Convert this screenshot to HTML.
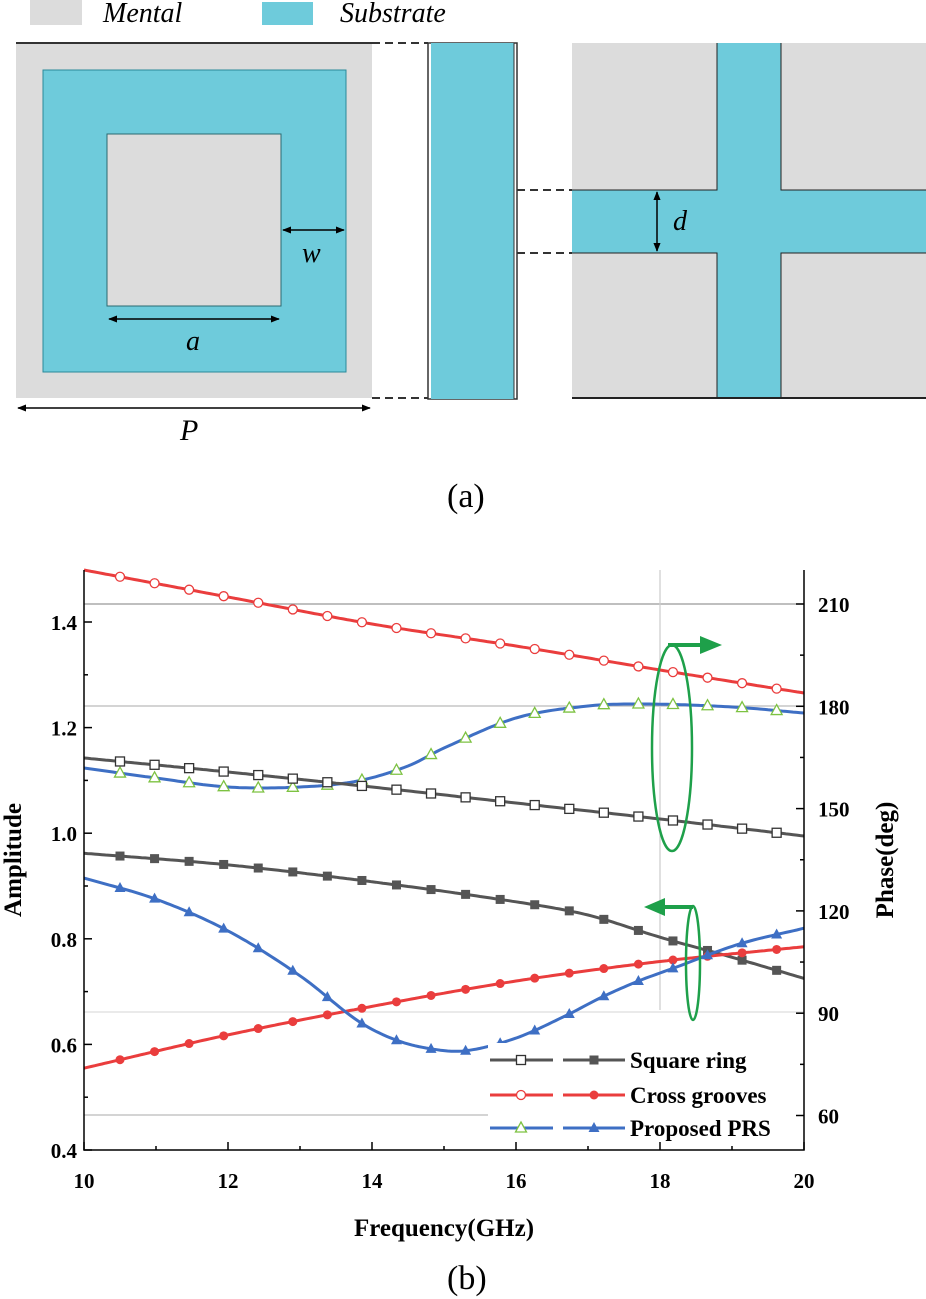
<!DOCTYPE html>
<html><head><meta charset="utf-8"><style>
html,body{margin:0;padding:0;background:#fff;}
svg{display:block;}
text{font-family:"Liberation Serif",serif;}
</style></head><body>
<svg id="s" width="926" height="1299" viewBox="0 0 926 1299" xmlns="http://www.w3.org/2000/svg">
<defs>
<marker id="ah" viewBox="0 0 10 10" refX="9" refY="5" markerWidth="6" markerHeight="6" orient="auto-start-reverse"><path d="M0,1 L10,5 L0,9 z" fill="#000"/></marker>
</defs>
<rect x="30" y="0" width="52" height="25" fill="#dcdcdc"/>
<text x="103" y="22" font-size="28" font-style="italic">Mental</text>
<rect x="262" y="2" width="51" height="23" fill="#6ecbdb"/>
<text x="340" y="22" font-size="28" font-style="italic">Substrate</text>
<rect x="16" y="43" width="356" height="355" fill="#dcdcdc"/>
<line x1="16" y1="43" x2="372" y2="43" stroke="#333" stroke-width="2"/>
<rect x="43" y="70" width="303" height="302" fill="#6ecbdb" stroke="#2a8a9a" stroke-width="1"/>
<rect x="107" y="134" width="174" height="172" fill="#dcdcdc" stroke="#2a6a70" stroke-width="1"/>
<line x1="109" y1="319" x2="279" y2="319" stroke="#000" stroke-width="1.5" marker-start="url(#ah)" marker-end="url(#ah)"/>
<text x="186" y="350" font-size="28" font-style="italic">a</text>
<line x1="283" y1="230" x2="344" y2="230" stroke="#000" stroke-width="1.5" marker-start="url(#ah)" marker-end="url(#ah)"/>
<text x="302" y="262" font-size="28" font-style="italic">w</text>
<line x1="18" y1="408" x2="370" y2="408" stroke="#000" stroke-width="1.5" marker-start="url(#ah)" marker-end="url(#ah)"/>
<text x="180" y="440" font-size="30" font-style="italic">P</text>
<line x1="372" y1="43" x2="428" y2="43" stroke="#333" stroke-width="2" stroke-dasharray="8,5"/>
<line x1="372" y1="398" x2="428" y2="398" stroke="#333" stroke-width="2" stroke-dasharray="8,5"/>
<rect x="428" y="43" width="89" height="356" fill="#fff" stroke="#333" stroke-width="1.5"/>
<rect x="431" y="43" width="83" height="356" fill="#6ecbdb"/>
<line x1="514" y1="43" x2="514" y2="399" stroke="#333" stroke-width="1"/>
<line x1="517" y1="190" x2="572" y2="190" stroke="#333" stroke-width="2" stroke-dasharray="8,5"/>
<line x1="517" y1="253" x2="572" y2="253" stroke="#333" stroke-width="2" stroke-dasharray="8,5"/>
<rect x="572" y="43" width="354" height="355" fill="#dcdcdc"/>
<rect x="717" y="43" width="64" height="355" fill="#6ecbdb"/>
<rect x="572" y="190" width="354" height="63" fill="#6ecbdb"/>
<path d="M572,190 H717 V43 M781,43 V190 H926 M572,253 H717 V398 M781,398 V253 H926" fill="none" stroke="#222" stroke-width="1"/>
<line x1="572" y1="398" x2="926" y2="398" stroke="#222" stroke-width="2"/>
<line x1="657" y1="192" x2="657" y2="251" stroke="#000" stroke-width="1.5" marker-start="url(#ah)" marker-end="url(#ah)"/>
<text x="673" y="230" font-size="28" font-style="italic">d</text>
<text x="447" y="507" font-size="34">(a)</text>
<text x="447" y="1289" font-size="34">(b)</text>
<g id="chart"></g>
</svg>
<script>
const NS="http://www.w3.org/2000/svg";
const g=document.getElementById('chart');
function el(t,a,p){const e=document.createElementNS(NS,t);for(const k in a)e.setAttribute(k,a[k]);(p||g).appendChild(e);return e;}
const X=f=>84+(f-10)*72;
const A=v=>1150-(v-0.4)*528;
el('line',{x1:84,y1:604,x2:804,y2:604,stroke:'#999','stroke-width':1.2});
el('line',{x1:84,y1:706,x2:804,y2:706,stroke:'#bbb','stroke-width':1.2});
el('line',{x1:84,y1:1012,x2:804,y2:1012,stroke:'#ddd','stroke-width':1.2});
el('line',{x1:84,y1:1115,x2:488,y2:1115,stroke:'#bbb','stroke-width':1.2});
el('line',{x1:660,y1:570,x2:660,y2:1010,stroke:'#ccc','stroke-width':1.2});
function interp(pts,f){for(let i=0;i<pts.length-1;i++){if(f>=pts[i][0]&&f<=pts[i+1][0]){
 const p0=pts[Math.max(i-1,0)],p1=pts[i],p2=pts[i+1],p3=pts[Math.min(i+2,pts.length-1)];
 const t=(f-p1[0])/(p2[0]-p1[0]);
 const m1=(p2[1]-p0[1])/(p2[0]-p0[0]||1)*(p2[0]-p1[0]);const m2=(p3[1]-p1[1])/(p3[0]-p1[0]||1)*(p2[0]-p1[0]);
 const t2=t*t,t3=t2*t;return (2*t3-3*t2+1)*p1[1]+(t3-2*t2+t)*m1+(-2*t3+3*t2)*p2[1]+(t3-t2)*m2;}}return pts[pts.length-1][1];}
const am=a=>a.map(p=>[p[0],A(p[1])]);
const S=[
 {c:'#ea3d3d',m:'oc',mc:'#ea3d3d',p:[[10,570],[12,597],[14,624],[16,646],[18,670],[20,693]]},
 {c:'#3e6fc4',m:'ot',mc:'#7dc242',p:[[10,768],[11,778],[12,787],[13,787],[13.8,781],[14.5,766],[15,748],[16,718],[17,706],[17.8,704],[19,707],[20,713]]},
 {c:'#555',m:'os',mc:'#333',p:[[10,758],[12,772],[14,787],[16,803],[18,819],[20,836]]},
 {c:'#555',m:'fs',mc:'#555',p:am([[10,0.962],[12,0.94],[14,0.908],[16,0.87],[17,0.845],[18,0.803],[19,0.765],[20,0.725]])},
 {c:'#ea3d3d',m:'fc',mc:'#ea3d3d',p:am([[10,0.555],[12,0.618],[14,0.672],[16,0.72],[18,0.757],[20,0.785]])},
 {c:'#3e6fc4',m:'ft',mc:'#3e6fc4',p:am([[10,0.915],[11,0.875],[12,0.815],[13,0.73],[13.8,0.645],[14.3,0.61],[14.8,0.592],[15.3,0.588],[16,0.612],[16.7,0.655],[17.2,0.69],[17.7,0.72],[18.2,0.745],[19.1,0.79],[20,0.82]])},
];
function marker(m,x,y,c,parent){
 if(m=='oc')el('circle',{cx:x,cy:y,r:4.5,fill:'#fff',stroke:c,'stroke-width':1.3},parent);
 if(m=='fc')el('circle',{cx:x,cy:y,r:4.5,fill:c},parent);
 if(m=='os')el('rect',{x:x-4.5,y:y-4.5,width:9,height:9,fill:'#fff',stroke:c,'stroke-width':1.3},parent);
 if(m=='fs')el('rect',{x:x-4.5,y:y-4.5,width:9,height:9,fill:c},parent);
 if(m=='ot')el('path',{d:`M${x},${y-6}L${x+5.5},${y+4}L${x-5.5},${y+4}z`,fill:'#fff',stroke:c,'stroke-width':1.3},parent);
 if(m=='ft')el('path',{d:`M${x},${y-6}L${x+5.5},${y+4}L${x-5.5},${y+4}z`,fill:c},parent);
}
for(const s of S){let d='';for(let f=10;f<=20.001;f+=0.05){d+=(d?'L':'M')+X(f).toFixed(1)+','+interp(s.p,f).toFixed(1);}
 el('path',{d,fill:'none',stroke:s.c,'stroke-width':3});
 for(let k=0;k<20;k++){const f=10.5+k*0.48;if(f>19.7)break;marker(s.m,X(f),interp(s.p,f),s.mc);}}
el('rect',{x:488,y:1043,width:314,height:103,fill:'#fff'});
const L=[['Square ring','#555','os','#333','fs','#555',1060],['Cross grooves','#ea3d3d','oc','#ea3d3d','fc','#ea3d3d',1095],['Proposed PRS','#3e6fc4','ot','#7dc242','ft','#3e6fc4',1128]];
for(const l of L){el('line',{x1:490,y1:l[6],x2:553,y2:l[6],stroke:l[1],'stroke-width':3});el('line',{x1:563,y1:l[6],x2:625,y2:l[6],stroke:l[1],'stroke-width':3});
 marker(l[2],521,l[6],l[3]);marker(l[4],594,l[6],l[5]);
 const t=el('text',{x:630,y:l[6]+8,'font-size':23,'font-weight':'bold'});t.textContent=l[0];}
el('ellipse',{cx:672,cy:748,rx:20,ry:103,fill:'none',stroke:'#1ea04a','stroke-width':2.5});
el('path',{d:'M668,645 L705,645',stroke:'#1ea04a','stroke-width':4});
el('path',{d:'M700,636 L722,645 L700,654z',fill:'#1ea04a'});
el('ellipse',{cx:693,cy:963,rx:7,ry:57,fill:'none',stroke:'#1ea04a','stroke-width':2.5});
el('path',{d:'M693,907 L660,907',stroke:'#1ea04a','stroke-width':4});
el('path',{d:'M665,898 L644,907 L665,916z',fill:'#1ea04a'});
el('path',{d:'M84,570 V1150 H804 V570',fill:'none',stroke:'#000','stroke-width':1.5});
for(let i=0;i<=10;i++){const v=0.4+i*0.1;const y=A(v);el('line',{x1:84,y1:y,x2:i%2==0?92:88,y2:y,stroke:'#000','stroke-width':1.5});
 if(i%2==0){const t=el('text',{x:77,y:y+8,'font-size':21,'font-weight':'bold','text-anchor':'end'});t.textContent=v.toFixed(1);}}
for(let p=60;p<=210;p+=30){const y=604+(210-p)*3.41;el('line',{x1:804,y1:y,x2:796,y2:y,stroke:'#000','stroke-width':1.5});const t=el('text',{x:818,y:y+8,'font-size':21,'font-weight':'bold'});t.textContent=p;}
for(const p of [75,105,135,165,195])el('line',{x1:804,y1:604+(210-p)*3.41,x2:800,y2:604+(210-p)*3.41,stroke:'#000','stroke-width':1.5});
for(let f=10;f<=20;f++){el('line',{x1:X(f),y1:1150,x2:X(f),y2:f%2==0?1142:1146,stroke:'#000','stroke-width':1.5});
 if(f%2==0){const t=el('text',{x:X(f),y:1188,'font-size':21,'font-weight':'bold','text-anchor':'middle'});t.textContent=f;}}
let t=el('text',{x:444,y:1236,'font-size':25,'font-weight':'bold','text-anchor':'middle'});t.textContent='Frequency(GHz)';
t=el('text',{x:0,y:0,'font-size':25,'font-weight':'bold','text-anchor':'middle',transform:'translate(21,860) rotate(-90)'});t.textContent='Amplitude';
t=el('text',{x:0,y:0,'font-size':25,'font-weight':'bold','text-anchor':'middle',transform:'translate(893,860) rotate(-90)'});t.textContent='Phase(deg)';
</script>
</body></html>
